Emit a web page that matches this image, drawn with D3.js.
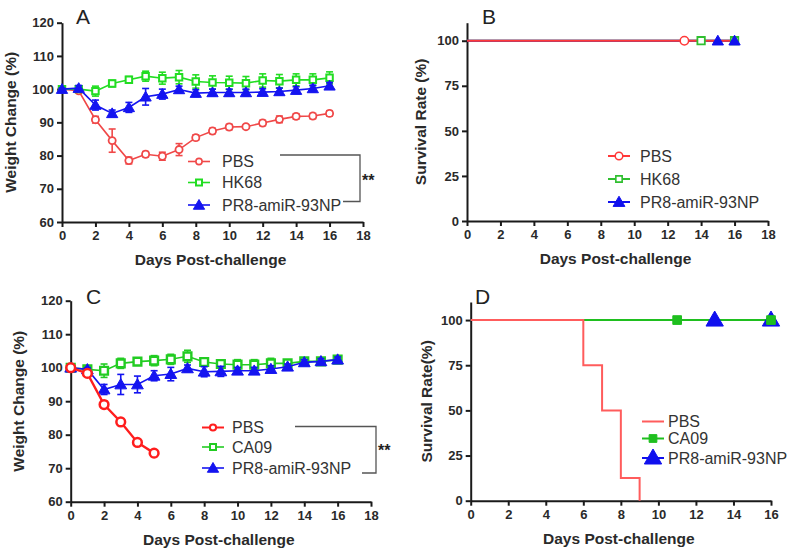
<!DOCTYPE html>
<html><head><meta charset="utf-8">
<script src="https://cdn.jsdelivr.net/npm/d3@7"></script>
<style>body{margin:0;background:#fff}svg{display:block;font-family:"Liberation Sans",Arial,sans-serif}</style>
</head><body>
<svg id="c" width="800" height="555"></svg>
<script>
// ---------- DATA ----------
const days = [0,1,2,3,4,5,6,7,8,9,10,11,12,13,14,15,16];
// Panel A (weight, %)
const aPBS  = [100,99.5,90.8,84.5,78.5,80.4,79.8,81.8,85.4,87.4,88.6,88.7,89.8,90.9,91.8,91.9,92.7];
const aPBSe = [0,0.5,1,3.5,1,0.8,1.2,1.8,0.8,0.8,0.8,0.5,0.8,1,0.8,0.8,0.8];
const aHK   = [100,100,99.4,101.7,102.8,103.9,103.3,103.6,102.3,102,101.9,101.8,102.6,102.4,102.8,102.8,103.4];
const aHKe  = [0.5,0.8,1.5,1,1,1.5,1.8,2,2,2,2,2,2,2,1.8,1.8,1.8];
const aPR8  = [100,100.3,95.2,92.7,94.5,97.7,98.5,99.9,98.8,99,99,99,99.1,99.3,99.7,100.2,101];
const aPR8e = [0.3,0.8,1.5,1,1.5,2.5,1.5,1,1,1,1,1,1,1,1,1,1];
// Panel C (weight, %)
const cDaysPBS = [0,1,2,3,4,5];
const cPBS  = [100,98.3,89,83.8,77.7,74.5];
const cPBSe = [0,0.5,1,1,1,1];
const cCA   = [100,99.5,99.1,101.3,101.8,102.1,102.5,103.4,101.7,101.1,100.9,100.9,101.3,101.3,101.9,101.9,102.4];
const cCAe  = [0.5,0.5,2,1.5,1,1.5,1.5,1.8,1.2,1.2,1.5,1.5,1.5,1,0.8,0.8,0.8];
const cPR8  = [100,99.5,93.5,95,95,97.6,98.1,99.8,98.8,98.9,99.1,99.1,99.6,100.3,101.6,101.9,102.4];
const cPR8e = [0.3,0.5,1.5,3,2.5,1.5,2,1,1.5,1.5,1,1,1,0.8,0.8,0.8,0.8];
// Panel B (survival, %)
const bDays = [0,16];
const bPBS = [100,100], bHK = [100,100], bPR8 = [100,100];
const bPBSmarks = [13], bHKmarks = [14,16], bPR8marks = [15,16];
// Panel D (survival, %)
const dDaysPBS = [0,6,7,8,9];
const dPBS = [100,75,50,12.5,0];
const dDays = [0,16];
const dCA = [100,100], dPR8 = [100,100];
const dCAmarks = [11,16], dPR8marks = [13,16];
// tick labels
const weightTicks = [60,70,80,90,100,110,120];
const survTicks = [0,25,50,75,100];
const dayTicks18 = [0,2,4,6,8,10,12,14,16,18];
const dayTicks16 = [0,2,4,6,8,10,12,14,16];
const xTitle = "Days Post-challenge";

// ---------- DRAW ----------
const svg = d3.select("#c");
const FONT = '"Liberation Sans",Arial,sans-serif';

function panel(o){
  const g = svg.append("g");
  const x = d3.scaleLinear().domain(o.xd).range([o.x0,o.x1]);
  const y = d3.scaleLinear().domain(o.yd).range([o.y0,o.y1]);
  const ax = g.append("g").attr("transform",`translate(0,${o.y0})`)
    .call(d3.axisBottom(x).tickValues(o.xt).tickFormat(d3.format("d")).tickSize(5).tickSizeOuter(0).tickPadding(4));
  const ay = g.append("g").attr("transform",`translate(${o.x0},0)`)
    .call(d3.axisLeft(y).tickValues(o.yt).tickFormat(d3.format("d")).tickSize(5).tickSizeOuter(0).tickPadding(3));
  [ax,ay].forEach(a=>{
    a.select(".domain").attr("stroke","#1a1a1a").attr("stroke-width",2);
    a.selectAll(".tick line").attr("stroke","#1a1a1a").attr("stroke-width",2);
    a.selectAll(".tick text").attr("font-family",FONT).attr("font-size",13).attr("font-weight","bold").attr("fill","#2a2a2a");
  });
  g.append("text").attr("x",(o.x0+o.x1)/2 - 2).attr("y",o.y0+43).attr("text-anchor","middle")
    .attr("font-size",15.5).attr("font-weight","bold").attr("fill","#2a2a2a").text(xTitle);
  g.append("text").attr("transform",`translate(${o.ytx},${(o.y0+o.y1)/2}) rotate(-90)`).attr("text-anchor","middle")
    .attr("font-size",15.5).attr("font-weight","bold").attr("fill","#2a2a2a").text(o.ytitle);
  g.append("text").attr("x",o.lx).attr("y",o.ly).attr("font-size",21).attr("fill","#222").text(o.letter);
  return {g,x,y};
}

function symbolPath(type,size){
  const t = type==="circle"?d3.symbolCircle:type==="square"?d3.symbolSquare:d3.symbolTriangle;
  return d3.symbol().type(t).size(size)();
}

function series(p, xs, ys, errs, st){
  const {g,x,y} = p;
  if(errs){
    const eg = g.append("g").attr("stroke",st.color).attr("stroke-width",1.6);
    xs.forEach((d,i)=>{
      const e = errs[i]; if(!e) return;
      eg.append("line").attr("x1",x(d)).attr("x2",x(d)).attr("y1",y(ys[i]-e)).attr("y2",y(ys[i]+e));
      eg.append("line").attr("x1",x(d)-3.5).attr("x2",x(d)+3.5).attr("y1",y(ys[i]-e)).attr("y2",y(ys[i]-e));
      eg.append("line").attr("x1",x(d)-3.5).attr("x2",x(d)+3.5).attr("y1",y(ys[i]+e)).attr("y2",y(ys[i]+e));
    });
  }
  const lw = st.lw === undefined ? 1.6 : st.lw;
  if(lw > 0){
    const line = d3.line().x((d,i)=>x(xs[i])).y(d=>y(d));
    if(st.step) line.curve(d3.curveStepAfter);
    g.append("path").datum(ys).attr("d",line).attr("fill","none").attr("stroke",st.color).attr("stroke-width",lw);
  }
  const mx = st.marks || xs;
  const my = st.marks ? st.marks.map(()=>ys[0]) : ys;
  if(st.shape){
    g.append("g").selectAll("path").data(mx).join("path")
      .attr("transform",(d,i)=>`translate(${x(d)},${y(my[i]) + (st.shape==="triangle"?1:0)})`)
      .attr("d",symbolPath(st.shape,st.size))
      .attr("fill",st.filled?st.color:"#fff").attr("stroke",st.color).attr("stroke-width",st.sw||2);
  }
}

function legend(g, items, x0, ys, tx){
  items.forEach((it,i)=>{
    const yy = ys[i];
    g.append("line").attr("x1",x0).attr("x2",x0+22).attr("y1",yy).attr("y2",yy).attr("stroke",it.color).attr("stroke-width",it.lw||1.6);
    if(it.shape){
      g.append("path").attr("transform",`translate(${x0+11},${yy+(it.shape==="triangle"?1:0)})`)
        .attr("d",symbolPath(it.shape,it.size)).attr("fill",it.filled?it.color:"#fff").attr("stroke",it.color).attr("stroke-width",it.sw||2);
    }
    g.append("text").attr("x",tx).attr("y",yy+5.5).attr("font-size",16).attr("fill","#333").text(it.name);
  });
}

function bracket(g, xa, ya, xb, yb, xc, sx, sy){
  g.append("path").attr("d",`M${xa},${ya}H${xb}V${yb}H${xc}`).attr("fill","none").attr("stroke","#555").attr("stroke-width",1.3);
  g.append("text").attr("x",sx).attr("y",sy).attr("font-size",16).attr("font-weight","bold").attr("fill","#222").text("**");
}

// Panel A
const pA = panel({x0:62,x1:363,y0:222,y1:22.7,xd:[0,18],yd:[60,120],xt:dayTicks18,yt:weightTicks,ytitle:"Weight Change (%)",ytx:16,letter:"A",lx:76,ly:24});
const redA="#f04848", greenA="#22dd22", blueA="#1414f0";
series(pA, days, aPBS, aPBSe, {color:redA, shape:"circle", size:40, sw:1.8});
series(pA, days, aHK, aHKe, {color:greenA, shape:"square", size:42, sw:2});
series(pA, days, aPR8, aPR8e, {color:blueA, shape:"triangle", size:55, filled:true, sw:1});
legend(pA.g,[{name:"PBS",color:redA,shape:"circle",size:30,sw:1.6},{name:"HK68",color:greenA,shape:"square",size:36,sw:2},{name:"PR8-amiR-93NP",color:blueA,shape:"triangle",size:55,filled:true,sw:1}],188,[161.5,182.5,205],222);
bracket(pA.g,280,155,360,201.5,343,362,186);

// Panel B
const pB = panel({x0:467,x1:768,y0:221,y1:22.7,xd:[0,18],yd:[0,110],xt:dayTicks18,yt:survTicks,ytitle:"Survival Rate (%)",ytx:426,letter:"B",lx:482,ly:24});
const redB="#ff3838", greenB="#2fbf2f", blueB="#1010ee";
series(pB, bDays, bHK, null, {color:greenB, lw:2, shape:null});
series(pB, bDays, bPR8, null, {color:blueB, lw:2, shape:null});
series(pB, bDays, bPBS, null, {color:redB, lw:2, shape:"circle", size:55, marks:bPBSmarks, sw:1.5});
series(pB, bDays, bHK, null, {color:greenB, lw:0, shape:"square", size:55, marks:bHKmarks, sw:1.8});
series(pB, bDays, bPR8, null, {color:blueB, lw:0, shape:"triangle", size:55, filled:true, marks:bPR8marks, sw:1});
legend(pB.g,[{name:"PBS",color:redB,shape:"circle",size:45,sw:1.5,lw:2},{name:"HK68",color:greenB,shape:"square",size:40,sw:1.6,lw:2},{name:"PR8-amiR-93NP",color:blueB,shape:"triangle",size:60,filled:true,sw:1,lw:2}],608,[156,179,202],640);

// Panel C
const pC = panel({x0:70.7,x1:371,y0:501.7,y1:300.7,xd:[0,18],yd:[60,120],xt:dayTicks18,yt:weightTicks,ytitle:"Weight Change (%)",ytx:24,letter:"C",lx:86,ly:304});
const redC="#ff1e1e", greenC="#22cc22", blueC="#1414f0";
series(pC, days, cCA, cCAe, {color:greenC, shape:"square", size:60, sw:2.4});
series(pC, days, cPR8, cPR8e, {color:blueC, shape:"triangle", size:60, filled:true, sw:1});
series(pC, cDaysPBS, cPBS, cPBSe, {color:redC, shape:"circle", size:60, sw:2.5, lw:2.4});
legend(pC.g,[{name:"PBS",color:redC,shape:"circle",size:30,sw:2,lw:2},{name:"CA09",color:greenC,shape:"square",size:36,sw:2},{name:"PR8-amiR-93NP",color:blueC,shape:"triangle",size:55,filled:true,sw:1}],202,[427.5,447,468],232);
bracket(pC.g,295,426.5,376,473,362,378,456);

// Panel D
const pD = panel({x0:470.7,x1:771,y0:500.7,y1:302,xd:[0,16],yd:[0,110],xt:dayTicks16,yt:survTicks,ytitle:"Survival Rate(%)",ytx:432,letter:"D",lx:475,ly:304});
const redD="#ff5c5c", greenD="#1fbf1f", blueD="#1010ee";
series(pD, dDays, dPR8, null, {color:blueD, lw:2, shape:null});
series(pD, dDays, dCA, null, {color:greenD, lw:2, shape:null});
series(pD, dDaysPBS, dPBS, null, {color:redD, lw:2, step:true, shape:null});
series(pD, dDays, dPR8, null, {color:blueD, lw:0, shape:"triangle", size:130, filled:true, marks:dPR8marks, sw:1});
series(pD, dDays, dCA, null, {color:greenD, lw:0, shape:"square", size:75, filled:true, marks:dCAmarks, sw:1});
legend(pD.g,[{name:"PBS",color:redD,lw:2},{name:"CA09",color:greenD,shape:"square",size:60,filled:true,sw:1,lw:2},{name:"PR8-amiR-93NP",color:blueD,shape:"triangle",size:130,filled:true,sw:1,lw:2}],642,[421.5,438.5,458],668);
</script>
</body></html>
